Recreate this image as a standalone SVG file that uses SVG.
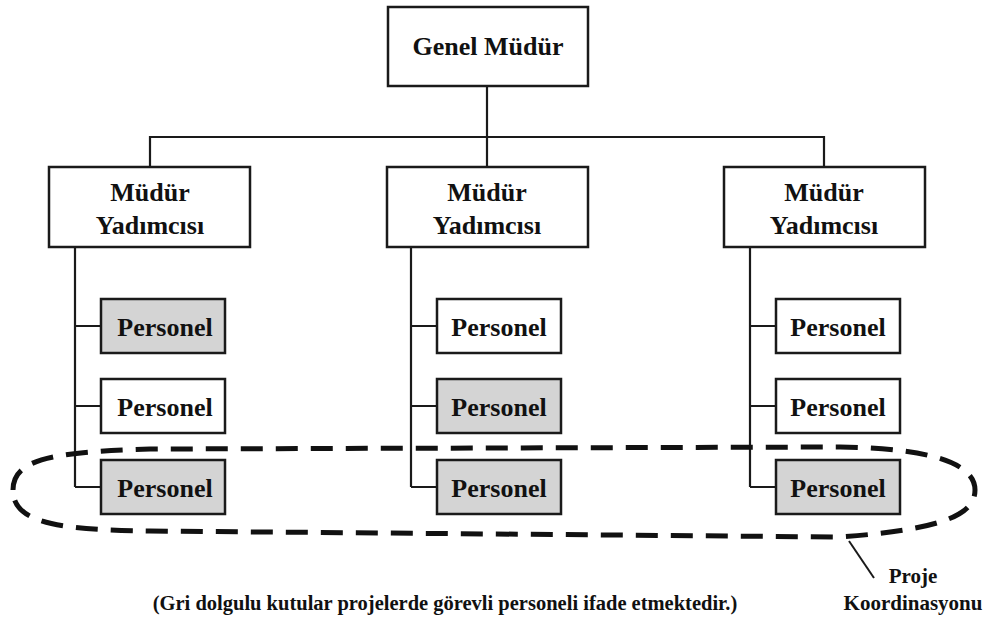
<svg xmlns="http://www.w3.org/2000/svg" width="988" height="619" viewBox="0 0 988 619">
  <style>
    .box { fill: #ffffff; stroke: #1a1a1a; stroke-width: 2.5; }
    .box.project { fill: #d4d4d4; }
    .lbl { font-family: "Liberation Serif", "Times New Roman", serif; font-weight: bold; font-size: 26px; fill: #111111; text-anchor: middle; }
    .note { font-family: "Liberation Serif", "Times New Roman", serif; font-weight: bold; fill: #111111; text-anchor: middle; }
    .wire { fill: none; stroke: #1a1a1a; stroke-width: 2.2; }
  </style>
  <rect width="988" height="619" fill="#ffffff"/>

  <!-- connectors -->
  <g id="connectors" class="wire">
    <path d="M487 86 V137 M150 167 V137 H824 V167 M487 137 V167"/>
    <path d="M75 247 V487 M75 326 H101 M75 406 H101 M75 487 H101"/>
    <path d="M411 247 V487 M411 326 H437 M411 406 H437 M411 487 H437"/>
    <path d="M750 247 V487 M750 326 H776 M750 406 H776 M750 487 H776"/>
  </g>

  <!-- project coordination outline -->
  <g id="proje-koordinasyonu">
    <path d="M13,490 C13,458 55,452 150,449 L840,447 C935,448 975,465 975,490 C975,517 935,530 840,537 L150,531 C55,530 13,522 13,490 Z" fill="none" stroke="#111111" stroke-width="5" stroke-dasharray="22 13"/>
    <line x1="849" y1="541" x2="874" y2="578" stroke="#1a1a1a" stroke-width="2"/>
    <text class="note" x="913" y="583" font-size="21">Proje</text>
    <text class="note" x="913" y="610" font-size="21">Koordinasyonu</text>
  </g>

  <g id="genel-mudur">
    <rect class="box" x="388" y="7" width="200" height="79"/>
    <text class="lbl" x="488" y="55">Genel Müdür</text>
  </g>

  <g id="mudur-yardimcisi-1">
    <rect class="box" x="49" y="167" width="201" height="80"/>
    <text class="lbl" x="150" y="201">Müdür</text>
    <text class="lbl" x="150" y="234">Yadımcısı</text>
  </g>
  <g id="mudur-yardimcisi-2">
    <rect class="box" x="387" y="167" width="201" height="80"/>
    <text class="lbl" x="487" y="201">Müdür</text>
    <text class="lbl" x="487" y="234">Yadımcısı</text>
  </g>
  <g id="mudur-yardimcisi-3">
    <rect class="box" x="724" y="167" width="201" height="80"/>
    <text class="lbl" x="824" y="201">Müdür</text>
    <text class="lbl" x="824" y="234">Yadımcısı</text>
  </g>

  <!-- column 1 staff -->
  <g id="personel-1-1">
    <rect class="box project" x="101" y="299" width="124" height="54"/>
    <text class="lbl" x="165" y="336">Personel</text>
  </g>
  <g id="personel-1-2">
    <rect class="box" x="101" y="379" width="124" height="54"/>
    <text class="lbl" x="165" y="416">Personel</text>
  </g>
  <g id="personel-1-3">
    <rect class="box project" x="101" y="460" width="124" height="54"/>
    <text class="lbl" x="165" y="497">Personel</text>
  </g>

  <!-- column 2 staff -->
  <g id="personel-2-1">
    <rect class="box" x="437" y="299" width="124" height="54"/>
    <text class="lbl" x="499" y="336">Personel</text>
  </g>
  <g id="personel-2-2">
    <rect class="box project" x="437" y="379" width="124" height="54"/>
    <text class="lbl" x="499" y="416">Personel</text>
  </g>
  <g id="personel-2-3">
    <rect class="box project" x="437" y="460" width="124" height="54"/>
    <text class="lbl" x="499" y="497">Personel</text>
  </g>

  <!-- column 3 staff -->
  <g id="personel-3-1">
    <rect class="box" x="776" y="299" width="124" height="54"/>
    <text class="lbl" x="838" y="336">Personel</text>
  </g>
  <g id="personel-3-2">
    <rect class="box" x="776" y="379" width="124" height="54"/>
    <text class="lbl" x="838" y="416">Personel</text>
  </g>
  <g id="personel-3-3">
    <rect class="box project" x="776" y="460" width="124" height="54"/>
    <text class="lbl" x="838" y="497">Personel</text>
  </g>

  <g id="aciklama">
    <text class="note" x="445" y="610" font-size="20.5">(Gri dolgulu kutular projelerde görevli personeli ifade etmektedir.)</text>
  </g>
</svg>
